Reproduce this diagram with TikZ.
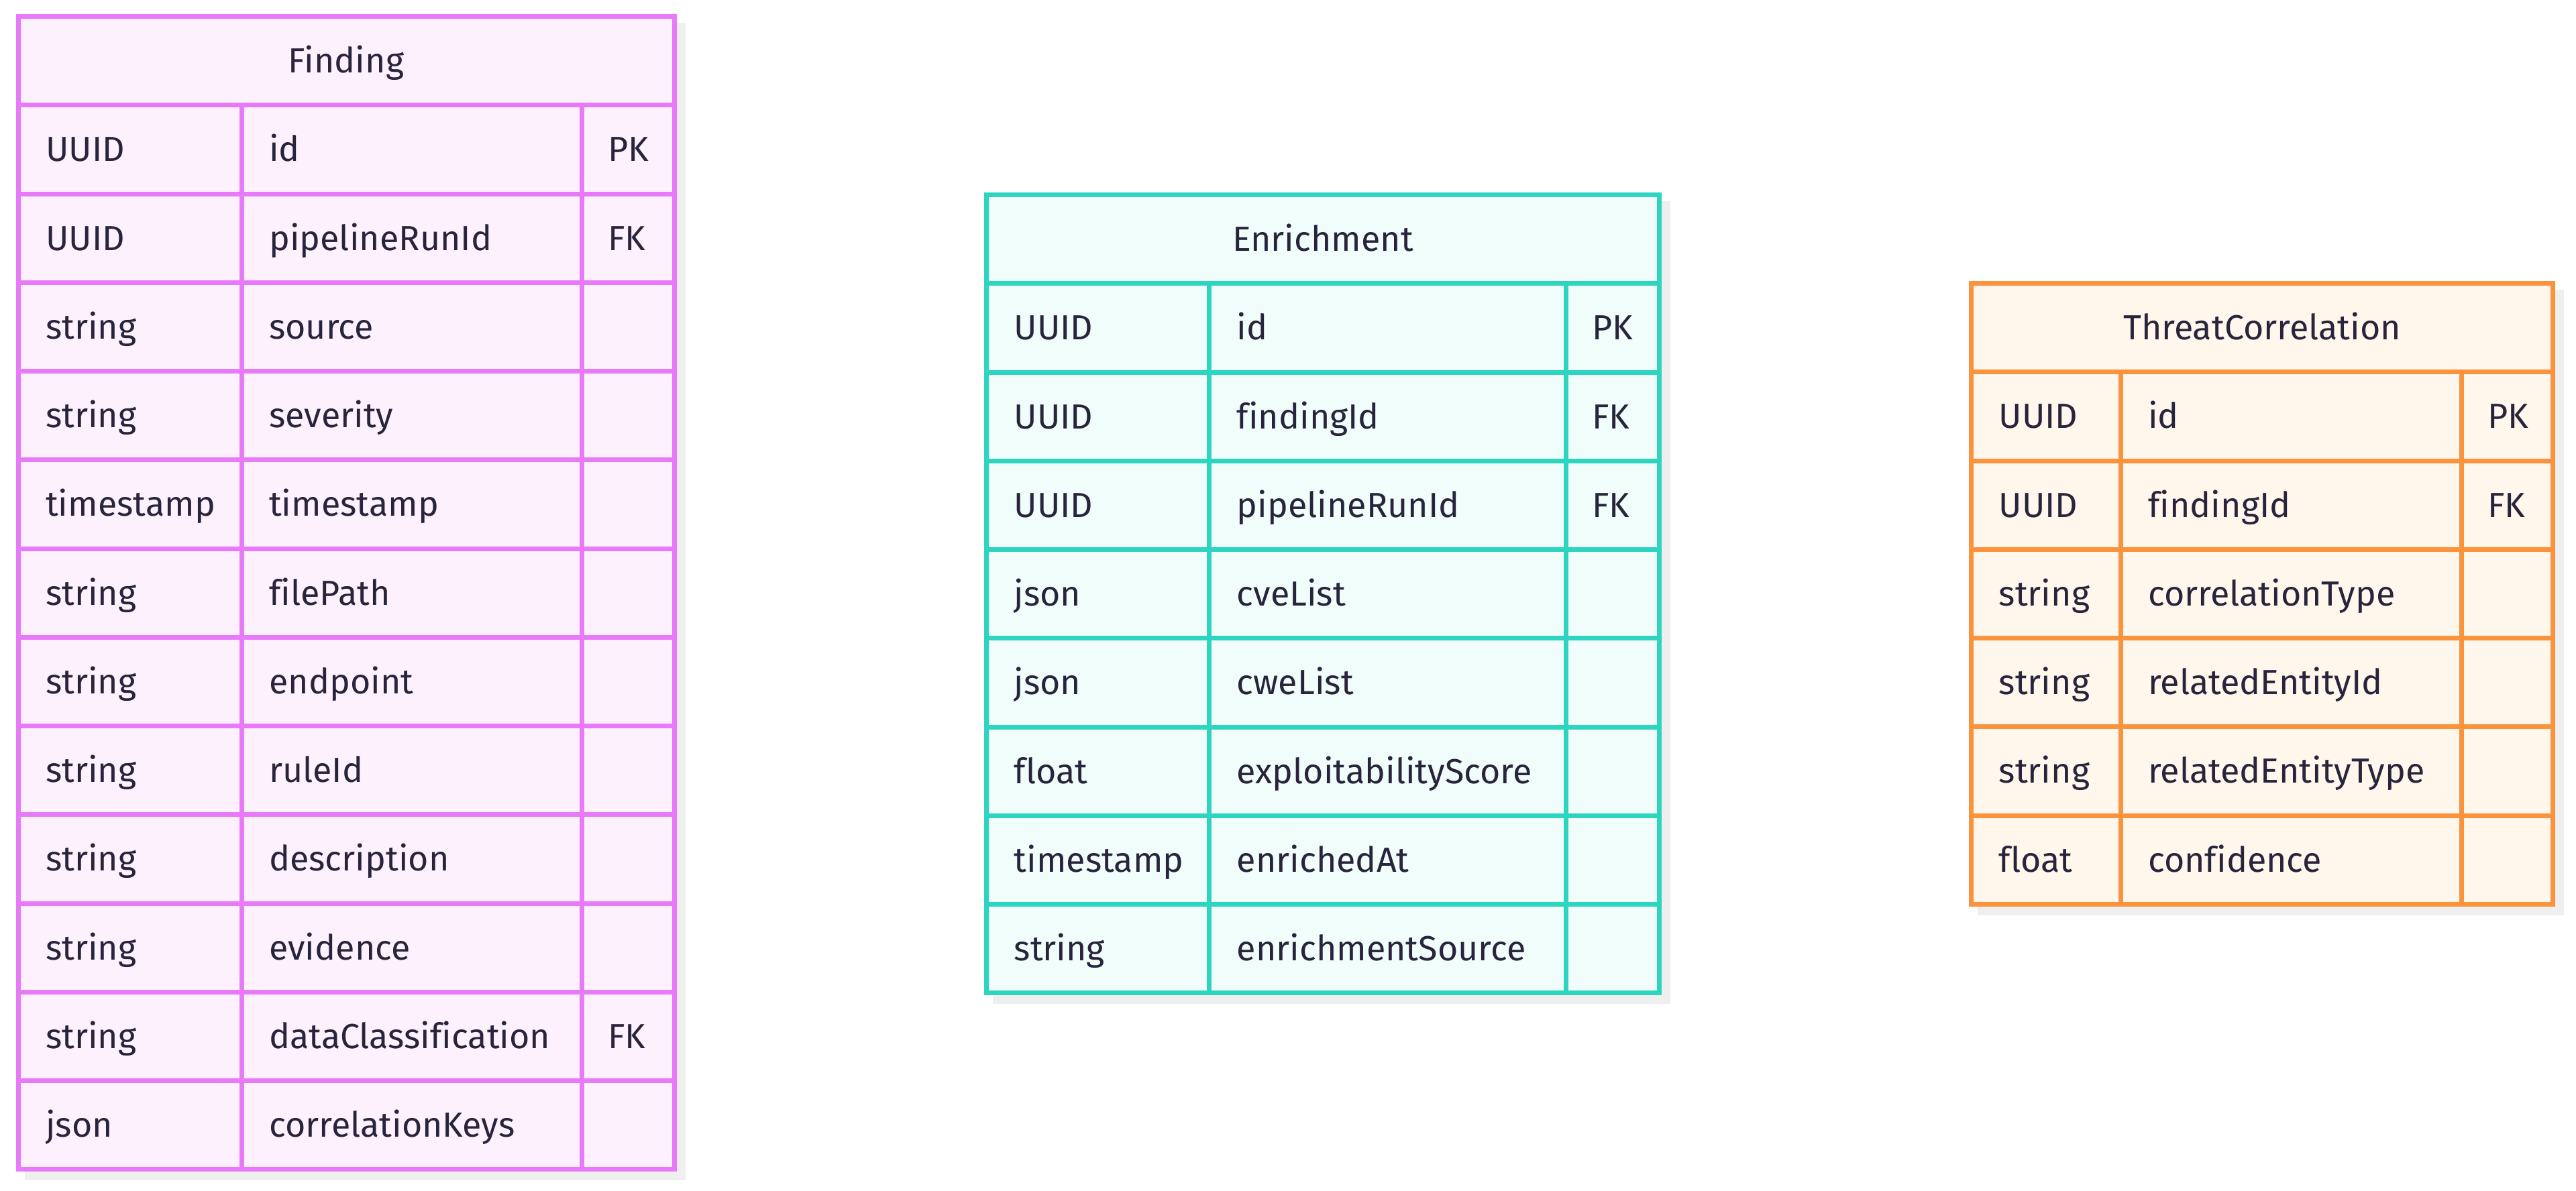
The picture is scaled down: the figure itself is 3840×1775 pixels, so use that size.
\documentclass[tikz,border=0pt]{standalone}
\usepackage{fontspec}
\setmainfont{Fira Sans}[Ligatures=NoCommon]
\definecolor{txtc}{HTML}{28243C}
\definecolor{shadowc}{HTML}{EFEFEF}
\definecolor{finline}{HTML}{E879F9}
\definecolor{finfill}{HTML}{FDF1FD}
\definecolor{enrline}{HTML}{2DD4BF}
\definecolor{enrfill}{HTML}{F0FDFA}
\definecolor{thrline}{HTML}{FB923C}
\definecolor{thrfill}{HTML}{FFF6EC}
\def\RH{132.25}
\tikzset{
  txt/.style={inner sep=0pt, text height=36pt, text depth=0pt, text=txtc,
    font=\fontsize{52}{60}\selectfont},
  cell/.style={txt, anchor=west},
}
% #1 prefix, #2 left, #3 col1, #4 col2, #5 right, #6 top, #7 title, #8 rows, #9 list
\newcommand\ertable[9]{%
  \pgfmathsetmacro\Bot{#6+(#8+1)*\RH}%
  \fill[shadowc] (#2+9.5,#6+9.5) rectangle (#5+16.5,\Bot+16.5);
  \fill[#1fill] (#2,#6) rectangle (#5,\Bot);
  \foreach \k in {1,...,#8} {
    \draw[#1line, line width=7pt] (#2,{#6+\k*\RH}) -- (#5,{#6+\k*\RH});
  }
  \draw[#1line, line width=7pt] (#3,{#6+\RH}) -- (#3,\Bot);
  \draw[#1line, line width=7pt] (#4,{#6+\RH}) -- (#4,\Bot);
  \draw[#1line, line width=7pt] (#2,#6) rectangle (#5,\Bot);
  \node[txt] (#1-title) at ({(#2+#5)/2},{#6+\RH/2}) {#7};
  \foreach \ty/\nm/\ky [count=\i] in {#9} {
    \pgfmathsetmacro\yc{#6+(\i+0.5)*\RH}
    \node[cell] (#1-\i-type) at (#2+41,\yc) {\ty};
    \node[cell] (#1-\i-name) at (#3+41,\yc) {\nm};
    \ifx\ky\empty\else
      \node[cell] (#1-\i-key) at (#4+39,\yc) {\ky};
    \fi
  }
}
\begin{document}
\begin{tikzpicture}[x=1pt,y=-1pt]
\useasboundingbox (0,0) rectangle (3840,1775);
\ertable{fin}{27}{360}{867}{1005}{24.5}{Finding}{12}{
  UUID/id/PK, UUID/pipelineRunId/FK, string/source/, string/severity/,
  timestamp/timestamp/, string/filePath/, string/endpoint/, string/ruleId/,
  string/description/, string/evidence/, string/dataClassification/FK,
  json/correlationKeys/}
\ertable{enr}{1470.5}{1802.5}{2334}{2473.5}{290.5}{Enrichment}{8}{
  UUID/id/PK, UUID/findingId/FK, UUID/pipelineRunId/FK, json/cveList/,
  json/cweList/, float/exploitabilityScore/, timestamp/enrichedAt/,
  string/enrichmentSource/}
\ertable{thr}{2938.5}{3161}{3669}{3805.5}{422.5}{ThreatCorrelation}{6}{
  UUID/id/PK, UUID/findingId/FK, string/correlationType/,
  string/relatedEntityId/, string/relatedEntityType/, float/confidence/}
\end{tikzpicture}
\end{document}
